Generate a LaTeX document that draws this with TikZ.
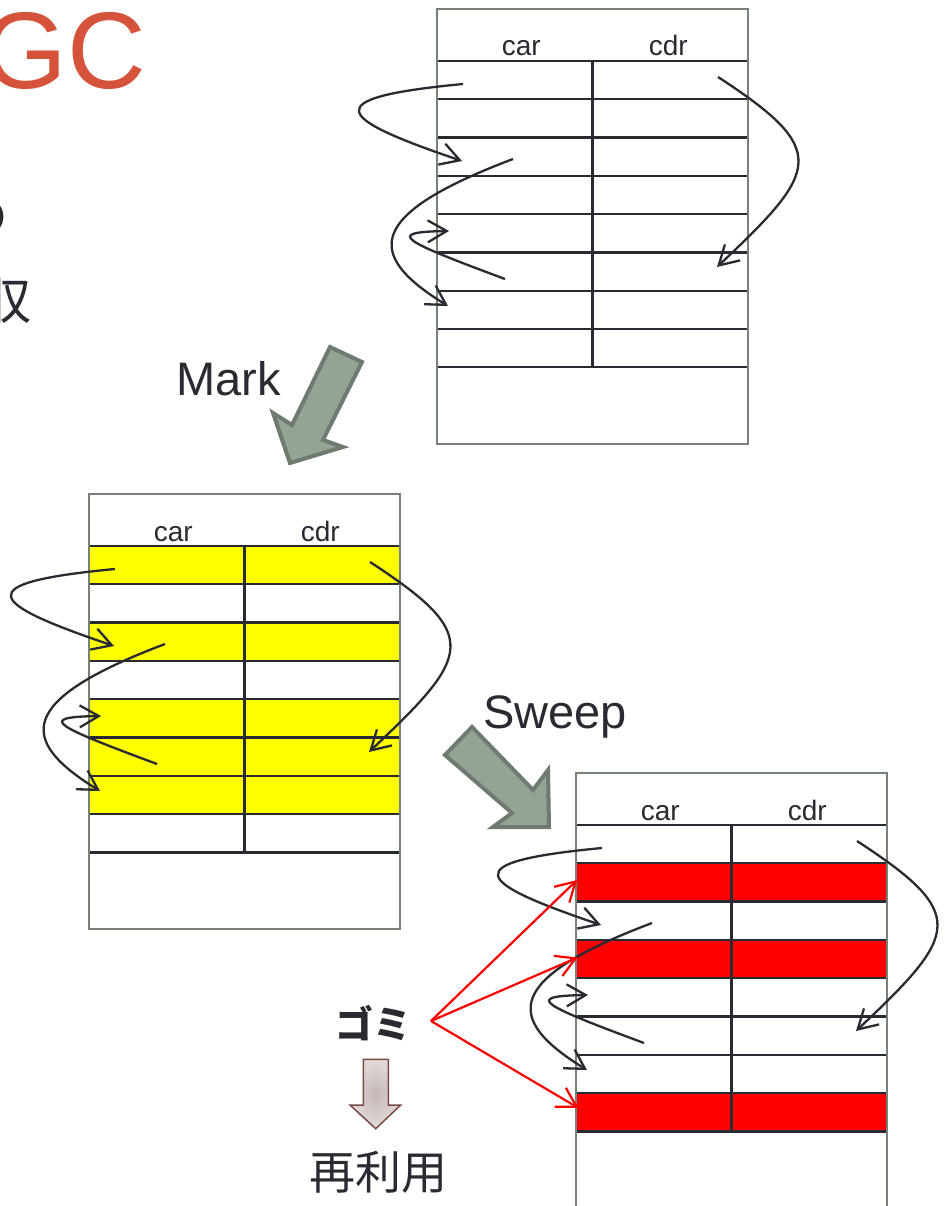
\documentclass[tikz,border=0pt]{standalone}
\usepackage{fontspec}
\setmainfont{Liberation Sans}
\newfontfamily\jp{Noto Sans CJK JP}
\usetikzlibrary{arrows.meta}
\definecolor{ink}{HTML}{2A2A33}
\definecolor{frameg}{HTML}{758275}
\definecolor{gcred}{HTML}{D6533B}
\definecolor{blockfill}{HTML}{93A396}
\definecolor{blockedge}{HTML}{6E7B6E}
\definecolor{dafill}{HTML}{C4B8B8}
\definecolor{dalight}{HTML}{E2DADA}
\definecolor{daedge}{HTML}{7A4B42}
\definecolor{markyellow}{HTML}{FFFF00}
\definecolor{sweepred}{HTML}{FF0000}
\tikzset{
 cell/.style={rectangle, draw=ink, line width=2.3pt, minimum width=155.5pt, minimum height=38.33pt, inner sep=0pt, outer sep=0pt, anchor=north west},
 frame/.style={rectangle, draw=frameg, line width=2.6pt, minimum width=311pt, minimum height=435pt, inner sep=0pt, outer sep=0pt, anchor=north west},
 hdr/.style={font=\fontsize{28}{30}\selectfont, text=ink, anchor=base, inner sep=0pt},
 link/.style={draw=ink, line width=2.3pt, -{Straight Barb[length=19pt,width=22pt]}},
 garbage/.style={draw=sweepred, line width=2.2pt, -{Straight Barb[length=19pt,width=22pt]}},
 block/.style={fill=blockfill, draw=blockedge, line width=4pt, line join=miter},
 biglabel/.style={font=\fontsize{47}{50}\selectfont, text=ink, anchor=base west, inner sep=0pt},
 cutjp/.style={font=\jp\fontsize{50}{54}\selectfont, text=ink, anchor=base east, inner sep=0pt}
}
\newcommand\heaptable[5]{%
 \begin{scope}[shift={(#2,#3)}]
  \node[cell, minimum width=311pt, minimum height=51.7pt] (#1-head) at (0,0) {};
  \foreach \r in {1,...,8}{
   \node[cell] (#1-\r-car) at (0,{51.7+(\r-1)*38.33}) {};
   \node[cell] (#1-\r-cdr) at (155.5,{51.7+(\r-1)*38.33}) {};
  }
  \foreach \r in {#4}{
   \node[cell, fill=#5] (#1-\r-carfill) at (0,{51.7+(\r-1)*38.33}) {};
   \node[cell, fill=#5] (#1-\r-cdrfill) at (155.5,{51.7+(\r-1)*38.33}) {};
  }
  \node[frame] (#1) at (0,0) {};
  \node[hdr] (#1-carlbl) at (84.2,47) {car};
  \node[hdr] (#1-cdrlbl) at (231.2,47) {cdr};
  \coordinate (#1-a0) at (26,75);  \coordinate (#1-a1) at (25,152);
  \coordinate (#1-b0) at (76,150); \coordinate (#1-b1) at (11,297);
  \coordinate (#1-c0) at (68,270); \coordinate (#1-c1) at (12,222);
  \coordinate (#1-d0) at (281,68); \coordinate (#1-d1) at (280,258);
  \draw[link] (#1-a0) .. controls (-122,89) and (-102,109) .. (#1-a1);
  \draw[link] (#1-b0) .. controls (-72,206) and (-72,246) .. (#1-b1);
  \draw[link] (#1-c0) .. controls (-37,231) and (-52,223) .. (#1-c1);
  \draw[link] (#1-d0) .. controls (393,141) and (383,161) .. (#1-d1);
 \end{scope}}
\begin{document}
\begin{tikzpicture}[x=1pt,y=-1pt]
\useasboundingbox (0,0) rectangle (944,1206);
\fill[white] (0,0) rectangle (944,1206);
% title and cut-off text
\node[font=\fontsize{109}{112}\selectfont, text=gcred, anchor=base east, inner sep=0pt] (title) at (146,88.3) {GC};
\node[cutjp] (line1) at (8.5,235) {の};
\node[cutjp] (line2) at (32,319) {収};
% tables
\heaptable{T1}{437}{9}{1}{none}
\heaptable{T2}{89}{494}{1,3,5,6,7}{markyellow}
\heaptable{T3}{576}{773}{2,4,8}{sweepred}
% block arrows
\draw[block] (330,347) -- (362,362) -- (323,440) -- (343,447) -- (290,463) -- (273,413) -- (292,425) -- cycle;
\draw[block] (472,727) -- (533,790) -- (548,770) -- (549,827) -- (493,827) -- (512,813) -- (445,755) -- cycle;
\node[biglabel] (mark) at (176,395) {Mark};
\node[biglabel] (sweep) at (483,728) {Sweep};
% garbage
\node[font=\jp\bfseries\fontsize{38}{40}\selectfont, text=ink, inner sep=0pt] (gomi) at (373,1023) {ゴミ};
\coordinate (gomi-out) at (431,1021);
\coordinate (g1) at (577,880);
\coordinate (g2) at (577.5,957.5);
\coordinate (g3) at (578.5,1108);
\draw[garbage] (gomi-out) -- (g1);
\draw[garbage] (gomi-out) -- (g2);
\draw[garbage] (gomi-out) -- (g3);
\shadedraw[inner color=dafill, outer color=dalight, draw=daedge, line width=1.5pt]
  (363.3,1059.3) -- (388.3,1059.3) -- (388.3,1105) -- (400.7,1105) -- (375.7,1128.7) -- (350,1105) -- (363.3,1105) -- cycle;
\node[font=\jp\fontsize{46}{50}\selectfont, text=ink, inner sep=0pt] (reuse) at (378,1172) {再利用};
\end{tikzpicture}
\end{document}
